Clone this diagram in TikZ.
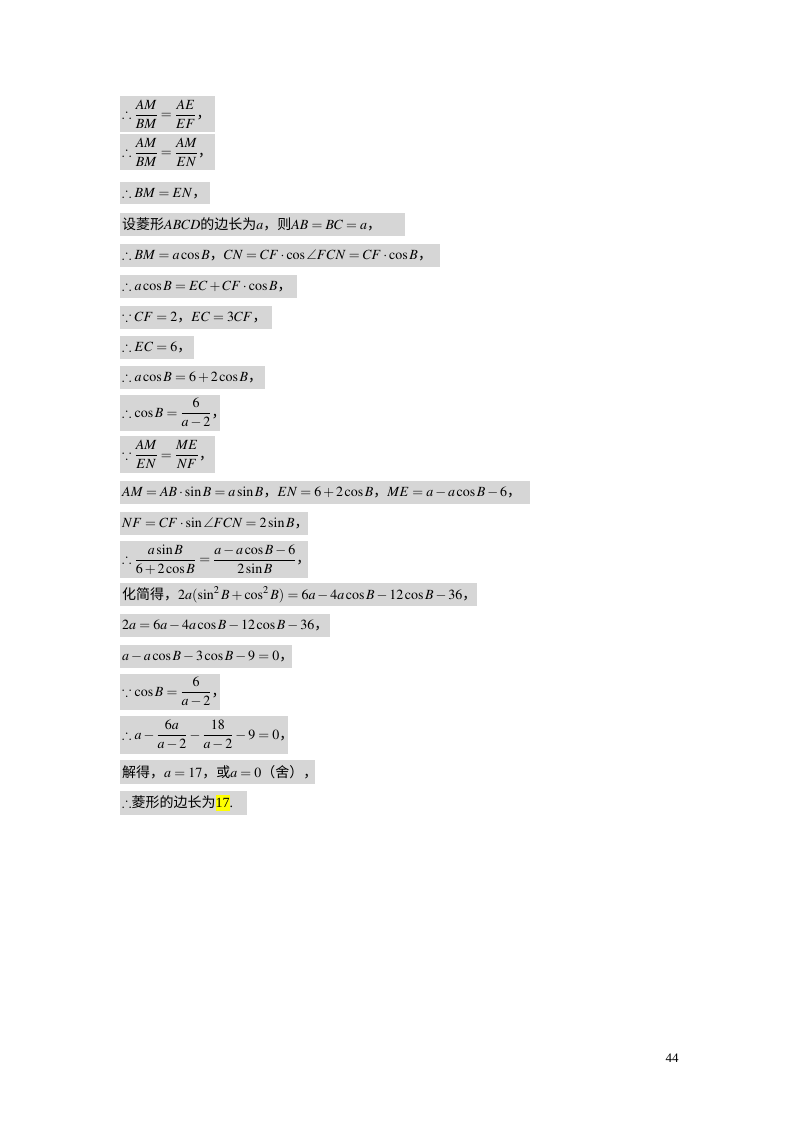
\documentclass[tikz,border=0pt]{standalone}
\usepackage{amsmath,amssymb}
\usepackage{mathptmx}
\usepackage{fontspec}
\setmainfont{Liberation Serif}
\newfontfamily\cjk{Noto Sans CJK SC}
\definecolor{hlgray}{HTML}{D6D6D6}
\definecolor{hlyel}{HTML}{FFFF00}
\newcommand\cj[1]{{\cjk #1}}
\begin{document}
\begin{tikzpicture}[x=1pt,y=-1pt,
  hl/.style={fill=hlgray,draw=none},
  tx/.style={anchor=west,inner sep=0pt,font=\fontsize{14}{16}\selectfont}]
\useasboundingbox[fill=white] (0,0) rectangle (800,1132);
\def\ln#1#2#3#4#5{\fill[hl] (120,#1) rectangle (#2,#3);
  \node[tx] (#4) at (122,{(#1+#3)/2}) {#5};}
\ln{96}{215}{132}{l1}{$\therefore\dfrac{AM}{BM}=\dfrac{AE}{EF}$\cj{，}}
\ln{134}{215}{170}{l2}{$\therefore\dfrac{AM}{BM}=\dfrac{AM}{EN}$\cj{，}}
\ln{182}{210}{204}{l3}{$\therefore BM=EN$\cj{，}}
\ln{213}{405}{236}{l4}{\cj{设菱形}$ABCD$\cj{的边长为}$a$\cj{，则}$AB=BC=a$\cj{，}}
\ln{244}{440}{267}{l5}{$\therefore BM=a\cos B$\cj{，}$CN=CF\cdot\cos\angle FCN=CF\cdot\cos B$\cj{，}}
\ln{275}{297}{298}{l6}{$\therefore a\cos B=EC+CF\cdot\cos B$\cj{，}}
\ln{306}{272}{329}{l7}{$\because CF=2$\cj{，}$EC=3CF$\cj{，}}
\ln{336}{194}{359}{l8}{$\therefore EC=6$\cj{，}}
\ln{366}{265}{389}{l9}{$\therefore a\cos B=6+2\cos B$\cj{，}}
\ln{395}{220}{431}{l10}{$\therefore\cos B=\dfrac{6}{a-2}$\cj{，}}
\ln{436}{215}{473}{l11}{$\because\dfrac{AM}{EN}=\dfrac{ME}{NF}$\cj{，}}
\ln{481}{530}{504}{l12}{$AM=AB\cdot\sin B=a\sin B$\cj{，}$EN=6+2\cos B$\cj{，}$ME=a-a\cos B-6$\cj{，}}
\ln{512}{308}{535}{l13}{$NF=CF\cdot\sin\angle FCN=2\sin B$\cj{，}}
\ln{541}{308}{578}{l14}{$\therefore\dfrac{a\sin B}{6+2\cos B}=\dfrac{a-a\cos B-6}{2\sin B}$\cj{，}}
\ln{583}{477}{606}{l15}{\cj{化简得，}$2a(\sin^2B+\cos^2B)=6a-4a\cos B-12\cos B-36$\cj{，}}
\ln{614}{330}{637}{l16}{$2a=6a-4a\cos B-12\cos B-36$\cj{，}}
\ln{645}{292}{668}{l17}{$a-a\cos B-3\cos B-9=0$\cj{，}}
\ln{674}{220}{710}{l18}{$\because\cos B=\dfrac{6}{a-2}$\cj{，}}
\ln{716}{288}{754}{l19}{$\therefore a-\dfrac{6a}{a-2}-\dfrac{18}{a-2}-9=0$\cj{，}}
\ln{760}{315}{784}{l20}{\cj{解得，}$a=17$\cj{，或}$a=0$\cj{（舍），}}
\fill[hl] (120,791) rectangle (247,815);
\node[tx] (l21) at (122,803) {$\therefore$\cj{菱形的边长为}\colorbox{hlyel}{\hspace*{-3pt}17\hspace*{-3pt}}.};
\node[font=\fontsize{13}{15}\selectfont] (pg) at (672,1058) {44};
\end{tikzpicture}
\end{document}
